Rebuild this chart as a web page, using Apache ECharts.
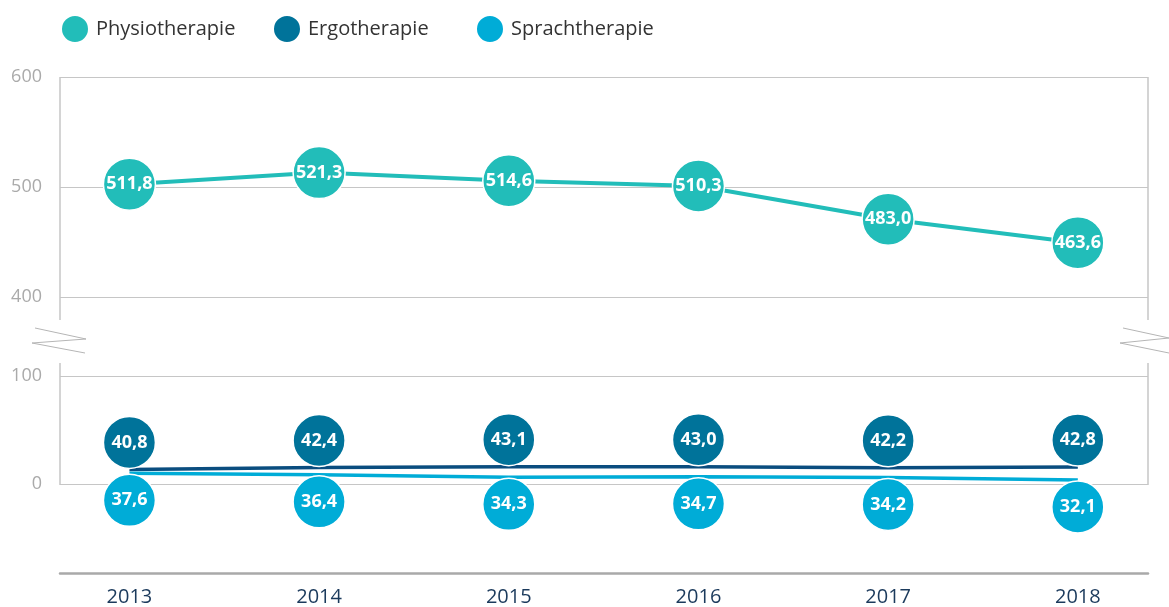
<!DOCTYPE html>
<html>
<head>
<meta charset="utf-8">
<script src="https://cdn.jsdelivr.net/npm/echarts@6/dist/echarts.min.js"></script>
<style>
html, body { margin: 0; padding: 0; background: #fff; }
#main { width: 1169px; height: 607px; }
</style>
</head>
<body>
<div id="main"></div>
<script>
var years = [2013, 2014, 2015, 2016, 2017, 2018];
var physio = [511.8, 521.3, 514.6, 510.3, 483.0, 463.6];
var ergo = [40.8, 42.4, 43.1, 43.0, 42.2, 42.8];
var sprach = [37.6, 36.4, 34.3, 34.7, 34.2, 32.1];
var seriesNames = ['Physiotherapie', 'Ergotherapie', 'Sprachtherapie'];
var upperTicks = [400, 600, 100];
var lowerTicks = [0, 100, 100];

var font = '"Open Sans", "Noto Sans", sans-serif';
var gridColor = '#c6c6c6';

var pairs = function (vals) {
	return vals.map(function (v, i) { return [years[i], v]; });
};
var fmt = function (p) {
	return p.value[1].toFixed(1).replace('.', ',');
};

var xMin = 2012.634, xMax = 2018.37;
var hiddenX = function (gi) {
	return { type: 'value', gridIndex: gi, min: xMin, max: xMax, show: false };
};
var hiddenY = function (gi, mn, mx) {
	return { type: 'value', gridIndex: gi, min: mn, max: mx, show: false };
};
var legendAt = function (name, left) {
	return {
		left: left,
		top: 14,
		padding: 0,
		itemWidth: 28,
		itemHeight: 28,
		icon: 'circle',
		textStyle: { fontSize: 20, color: '#333', fontFamily: font, padding: [0, 0, 0, 2] },
		data: [name]
	};
};

var bubbleLabel = {
	show: true,
	position: 'inside',
	color: '#fff',
	fontFamily: font,
	fontWeight: 'bold',
	fontSize: 18,
	formatter: fmt
};

var myChart = echarts.init(document.getElementById('main'));

var option = {
	animation: false,
	textStyle: { fontFamily: font },
	legend: [
		legendAt(seriesNames[0], 60),
		legendAt(seriesNames[1], 272),
		legendAt(seriesNames[2], 475)
	],
	grid: [
		// upper frame (visible ticks)
		{ left: 60, right: 21, top: 77, height: 220 },
		// upper data
		{ left: 60, right: 21, top: 77, height: 243 },
		// lower frame (visible ticks + year axis)
		{ left: 60, right: 21, top: 376, height: 109 },
		// lower data
		{ left: 60, right: 21, top: 276, height: 243 }
	],
	xAxis: [
		hiddenX(0),
		hiddenX(1),
		{
			type: 'value',
			gridIndex: 2,
			min: xMin,
			max: xMax,
			offset: 89,
			splitLine: { show: false },
			axisTick: { show: false },
			axisLine: { show: true, onZero: false, lineStyle: { color: '#a9a9a9', width: 2.5 } },
			axisLabel: {
				color: '#1b3a5c',
				fontSize: 20,
				fontFamily: font,
				margin: 14,
				formatter: function (v) {
					return years.indexOf(v) >= 0 ? String(v) : '';
				}
			}
		},
		hiddenX(3)
	],
	yAxis: [
		{
			type: 'value',
			gridIndex: 0,
			min: upperTicks[0],
			max: upperTicks[1],
			interval: upperTicks[2],
			axisLine: { show: false },
			axisTick: { show: false },
			splitLine: { lineStyle: { color: gridColor, width: 1 } },
			axisLabel: { color: '#aaa', fontSize: 18, fontFamily: font, margin: 18 }
		},
		hiddenY(1, 400, 600),
		{
			type: 'value',
			gridIndex: 2,
			min: lowerTicks[0],
			max: lowerTicks[1],
			interval: lowerTicks[2],
			axisLine: { show: false },
			axisTick: { show: false },
			splitLine: { lineStyle: { color: gridColor, width: 1 } },
			axisLabel: { color: '#aaa', fontSize: 18, fontFamily: font, margin: 18 }
		},
		hiddenY(3, 0, 200)
	],
	graphic: [
		// frame verticals
		{ type: 'line', shape: { x1: 60, y1: 77, x2: 60, y2: 320 }, style: { stroke: gridColor, lineWidth: 1.5 } },
		{ type: 'line', shape: { x1: 1148, y1: 77, x2: 1148, y2: 320 }, style: { stroke: gridColor, lineWidth: 1.5 } },
		{ type: 'line', shape: { x1: 60, y1: 363, x2: 60, y2: 485 }, style: { stroke: gridColor, lineWidth: 1.5 } },
		{ type: 'line', shape: { x1: 1148, y1: 363, x2: 1148, y2: 485 }, style: { stroke: gridColor, lineWidth: 1.5 } },
		// axis break marks
		{ type: 'polyline', shape: { points: [[35, 328], [86, 339], [32, 343], [85, 353]] }, style: { stroke: '#b5b5b5', lineWidth: 1, fill: null } },
		{ type: 'polyline', shape: { points: [[1123, 328], [1169, 338], [1120, 343], [1169, 353]] }, style: { stroke: '#b5b5b5', lineWidth: 1, fill: null } }
	],
	series: [
		{
			name: seriesNames[0],
			type: 'line',
			xAxisIndex: 1,
			yAxisIndex: 1,
			data: pairs(physio),
			symbol: 'circle',
			symbolSize: 52,
			clip: false,
			itemStyle: { color: '#22bdb9', borderColor: '#fff', borderWidth: 1.5 },
			lineStyle: { color: '#22bdb9', width: 4 },
			label: bubbleLabel,
			z: 3
		},
		{
			name: seriesNames[1],
			type: 'line',
			xAxisIndex: 3,
			yAxisIndex: 3,
			data: pairs(ergo),
			symbol: 'circle',
			symbolSize: 52,
			symbolOffset: [0, -27],
			clip: false,
			itemStyle: { color: '#00739a', borderColor: '#fff', borderWidth: 1.5 },
			lineStyle: { color: '#0a4d7f', width: 3.5 },
			label: bubbleLabel,
			z: 3
		},
		{
			name: seriesNames[2],
			type: 'line',
			xAxisIndex: 3,
			yAxisIndex: 3,
			data: pairs(sprach),
			symbol: 'circle',
			symbolSize: 52,
			symbolOffset: [0, 27],
			clip: false,
			itemStyle: { color: '#00acd7', borderColor: '#fff', borderWidth: 1.5 },
			lineStyle: { color: '#00acd7', width: 3.5 },
			label: bubbleLabel,
			z: 3
		}
	]
};
myChart.setOption(option);
</script>
</body>
</html>
